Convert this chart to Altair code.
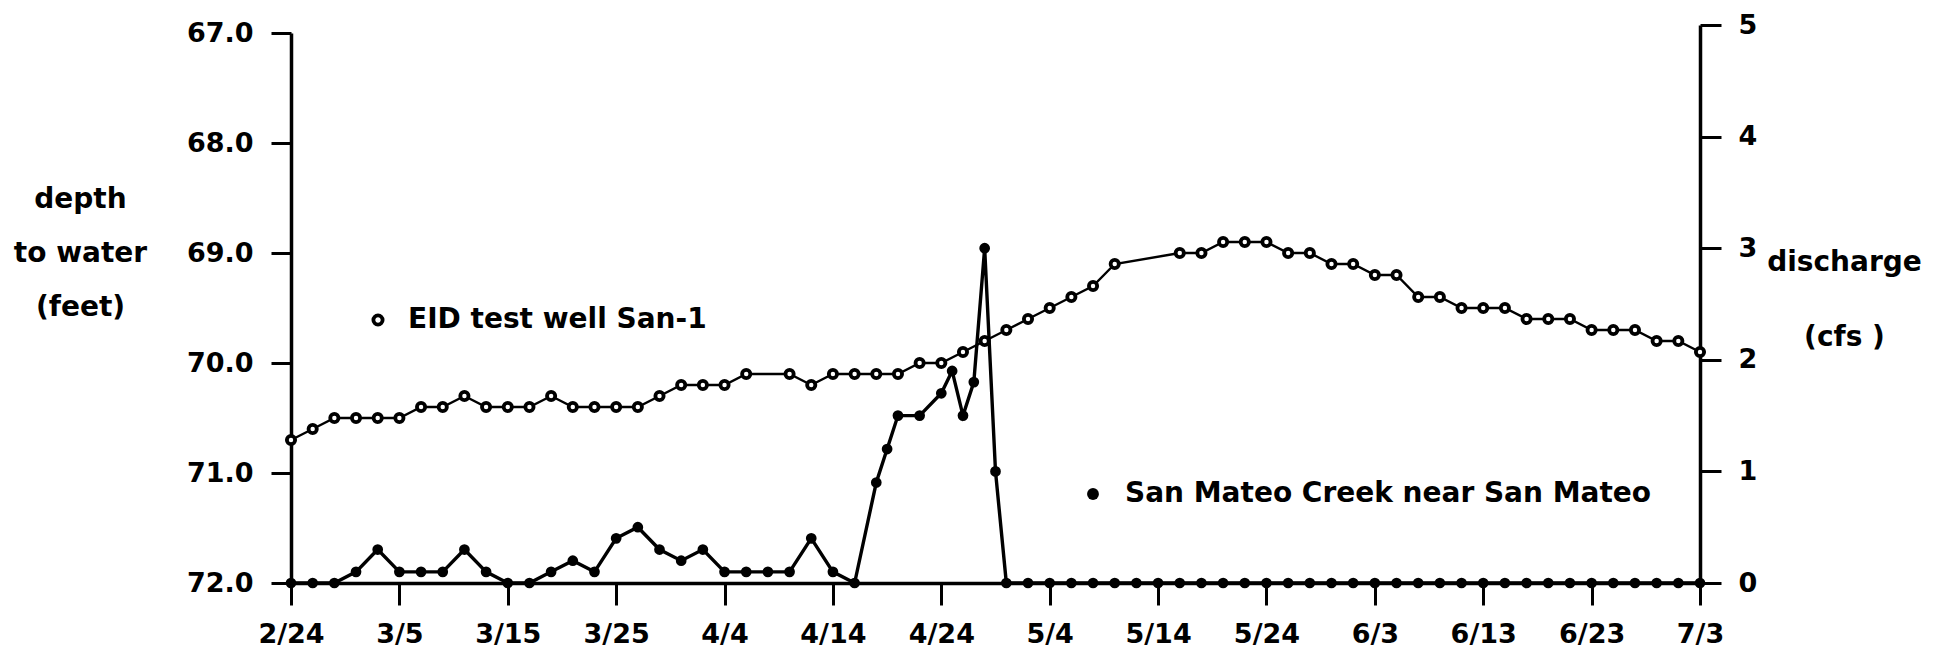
import altair as alt
import pandas as pd

# ---------------- data ----------------
well_dates = [
    "1980-02-24", "1980-02-26", "1980-02-28", "1980-03-01", "1980-03-03", "1980-03-05",
    "1980-03-07", "1980-03-09", "1980-03-11", "1980-03-13", "1980-03-15", "1980-03-17",
    "1980-03-19", "1980-03-21", "1980-03-23", "1980-03-25", "1980-03-27", "1980-03-29",
    "1980-03-31", "1980-04-02", "1980-04-04", "1980-04-06", "1980-04-10", "1980-04-12",
    "1980-04-14", "1980-04-16", "1980-04-18", "1980-04-20", "1980-04-22", "1980-04-24",
    "1980-04-26", "1980-04-28", "1980-04-30", "1980-05-02", "1980-05-04", "1980-05-06",
    "1980-05-08", "1980-05-10", "1980-05-16", "1980-05-18", "1980-05-20", "1980-05-22",
    "1980-05-24", "1980-05-26", "1980-05-28", "1980-05-30", "1980-06-01", "1980-06-03",
    "1980-06-05", "1980-06-07", "1980-06-09", "1980-06-11", "1980-06-13", "1980-06-15",
    "1980-06-17", "1980-06-19", "1980-06-21", "1980-06-23", "1980-06-25", "1980-06-27",
    "1980-06-29", "1980-07-01", "1980-07-03",
]
well_depth = [
    70.7, 70.6, 70.5, 70.5, 70.5, 70.5,
    70.4, 70.4, 70.3, 70.4, 70.4, 70.4,
    70.3, 70.4, 70.4, 70.4, 70.4, 70.3,
    70.2, 70.2, 70.2, 70.1, 70.1, 70.2,
    70.1, 70.1, 70.1, 70.1, 70.0, 70.0,
    69.9, 69.8, 69.7, 69.6, 69.5, 69.4,
    69.3, 69.1, 69.0, 69.0, 68.9, 68.9,
    68.9, 69.0, 69.0, 69.1, 69.1, 69.2,
    69.2, 69.4, 69.4, 69.5, 69.5, 69.5,
    69.6, 69.6, 69.6, 69.7, 69.7, 69.7,
    69.8, 69.8, 69.9,
]

creek_dates = [
    "1980-02-24", "1980-02-26", "1980-02-28", "1980-03-01", "1980-03-03", "1980-03-05",
    "1980-03-07", "1980-03-09", "1980-03-11", "1980-03-13", "1980-03-15", "1980-03-17",
    "1980-03-19", "1980-03-21", "1980-03-23", "1980-03-25", "1980-03-27", "1980-03-29",
    "1980-03-31", "1980-04-02", "1980-04-04", "1980-04-06", "1980-04-08", "1980-04-10",
    "1980-04-12", "1980-04-14", "1980-04-16", "1980-04-18", "1980-04-19", "1980-04-20",
    "1980-04-22", "1980-04-24", "1980-04-25", "1980-04-26", "1980-04-27", "1980-04-28",
    "1980-04-29", "1980-04-30", "1980-05-02", "1980-05-04", "1980-05-06", "1980-05-08",
    "1980-05-10", "1980-05-12", "1980-05-14", "1980-05-16", "1980-05-18", "1980-05-20",
    "1980-05-22", "1980-05-24", "1980-05-26", "1980-05-28", "1980-05-30", "1980-06-01",
    "1980-06-03", "1980-06-05", "1980-06-07", "1980-06-09", "1980-06-11", "1980-06-13",
    "1980-06-15", "1980-06-17", "1980-06-19", "1980-06-21", "1980-06-23", "1980-06-25",
    "1980-06-27", "1980-06-29", "1980-07-01", "1980-07-03",
]
creek_cfs = [
    0.0, 0.0, 0.0, 0.1, 0.3, 0.1,
    0.1, 0.1, 0.3, 0.1, 0.0, 0.0,
    0.1, 0.2, 0.1, 0.4, 0.5, 0.3,
    0.2, 0.3, 0.1, 0.1, 0.1, 0.1,
    0.4, 0.1, 0.0, 0.9, 1.2, 1.5,
    1.5, 1.7, 1.9, 1.5, 1.8, 3.0,
    1.0, 0.0, 0.0, 0.0, 0.0, 0.0,
    0.0, 0.0, 0.0, 0.0, 0.0, 0.0,
    0.0, 0.0, 0.0, 0.0, 0.0, 0.0,
    0.0, 0.0, 0.0, 0.0, 0.0, 0.0,
    0.0, 0.0, 0.0, 0.0, 0.0, 0.0,
    0.0, 0.0, 0.0, 0.0,
]

x_tick_dates = [
    "1980-02-24", "1980-03-05", "1980-03-15", "1980-03-25", "1980-04-04",
    "1980-04-14", "1980-04-24", "1980-05-04", "1980-05-14", "1980-05-24",
    "1980-06-03", "1980-06-13", "1980-06-23", "1980-07-03",
]
depth_ticks = [67.0, 68.0, 69.0, 70.0, 71.0, 72.0]
cfs_ticks = [0, 1, 2, 3, 4, 5]
legend_labels = ["EID test well San-1", "San Mateo Creek near San Mateo"]
left_title = ["depth", "to water", "(feet)"]
right_title = ["discharge", "(cfs )"]

# ---------------- style ----------------
FONT = "DejaVu Sans"
INK = "black"
W, H = 1409, 550


def to_dt(s):
    y, m, d = (int(v) for v in s.split("-"))
    return alt.DateTime(year=y, month=m, date=d, utc=True)


well_df = pd.DataFrame({"date": well_dates, "depth": well_depth})
creek_df = pd.DataFrame({"date": creek_dates, "cfs": creek_cfs})

x_scale = alt.Scale(type="utc", domain=[to_dt(x_tick_dates[0]), to_dt(x_tick_dates[-1])], nice=False)

x_axis = alt.Axis(
    values=[to_dt(s) for s in x_tick_dates],
    labelExpr="utcFormat(datum.value, '%-m/%-d')",
    title=None, grid=False, orient="bottom",
    domainColor=INK, domainWidth=3.5, tickColor=INK, tickWidth=3, tickSize=22,
    labelFont=FONT, labelFontSize=27, labelFontWeight="bold", labelColor=INK,
    labelPadding=16, labelFlush=False, labelOverlap=False,
)
x_enc = alt.X("date:T", scale=x_scale, axis=x_axis)

depth_axis = alt.Axis(
    orient="left", values=depth_ticks, format=".1f", grid=False,
    domainColor=INK, domainWidth=3.5, tickColor=INK, tickWidth=3, tickSize=20,
    labelFont=FONT, labelFontSize=27, labelFontWeight="bold", labelColor=INK,
    labelPadding=18, labelOverlap=False,
    title=left_title, titleAngle=0, titleAlign="center", titleBaseline="alphabetic",
    titleX=-211, titleY=174, titleLineHeight=54,
    titleFont=FONT, titleFontSize=28, titleFontWeight="bold", titleColor=INK,
)

cfs_axis = alt.Axis(
    orient="right", values=cfs_ticks, format="d", grid=False,
    domainColor=INK, domainWidth=3.5, tickColor=INK, tickWidth=3, tickSize=21,
    labelFont=FONT, labelFontSize=27, labelFontWeight="bold", labelColor=INK,
    labelPadding=17, labelOverlap=False,
    title=right_title, titleAngle=0, titleAlign="center", titleBaseline="alphabetic",
    titleX=144, titleY=237, titleLineHeight=75,
    titleFont=FONT, titleFontSize=28, titleFontWeight="bold", titleColor=INK,
)

well_base = alt.Chart(well_df).encode(
    x=x_enc,
    y=alt.Y("depth:Q", scale=alt.Scale(domain=[67, 72], reverse=True, nice=False, zero=False), axis=depth_axis),
)
well_line = well_base.mark_line(color=INK, strokeWidth=2.4)
well_pts = well_base.mark_point(shape="circle", size=68, fill="white", stroke=INK,
                                strokeWidth=3.8, opacity=1, fillOpacity=1)

creek_base = alt.Chart(creek_df).encode(
    x=x_enc,
    y=alt.Y("cfs:Q", scale=alt.Scale(domain=[0, 5], range=[H, -8], nice=False), axis=cfs_axis),
)
creek_line = creek_base.mark_line(color=INK, strokeWidth=3.4)
creek_pts = creek_base.mark_point(shape="circle", size=115, filled=True, color=INK, opacity=1)

# inline labels (legend)
lab_style = dict(font=FONT, fontSize=28, fontWeight="bold", color=INK, align="left", baseline="alphabetic")
lab1_sym = alt.Chart(well_df.head(1)).mark_point(
    shape="circle", size=85, fill="white", stroke=INK, strokeWidth=3.8, opacity=1
).encode(x=alt.value(87), y=alt.value(287))
lab1_txt = alt.Chart(well_df.head(1)).mark_text(text=legend_labels[0], **lab_style).encode(
    x=alt.value(117), y=alt.value(295))
lab2_sym = alt.Chart(creek_df.head(1)).mark_point(
    shape="circle", size=140, filled=True, color=INK, opacity=1
).encode(x=alt.value(802), y=alt.value(461))
lab2_txt = alt.Chart(creek_df.head(1)).mark_text(text=legend_labels[1], **lab_style).encode(
    x=alt.value(834), y=alt.value(469))

chart = alt.layer(
    alt.layer(well_line, well_pts),
    alt.layer(creek_line, creek_pts),
    lab1_sym, lab1_txt, lab2_sym, lab2_txt,
).resolve_scale(y="independent").properties(
    width=W, height=H,
    padding={"left": 283, "top": 25, "right": 1921 - 283 - W, "bottom": 642 - 25 - H},
    autosize=alt.AutoSizeParams(type="none"),
    background="white",
).configure_view(stroke=None)

chart.save("out.html", embed_options={"renderer": "svg", "actions": False})
